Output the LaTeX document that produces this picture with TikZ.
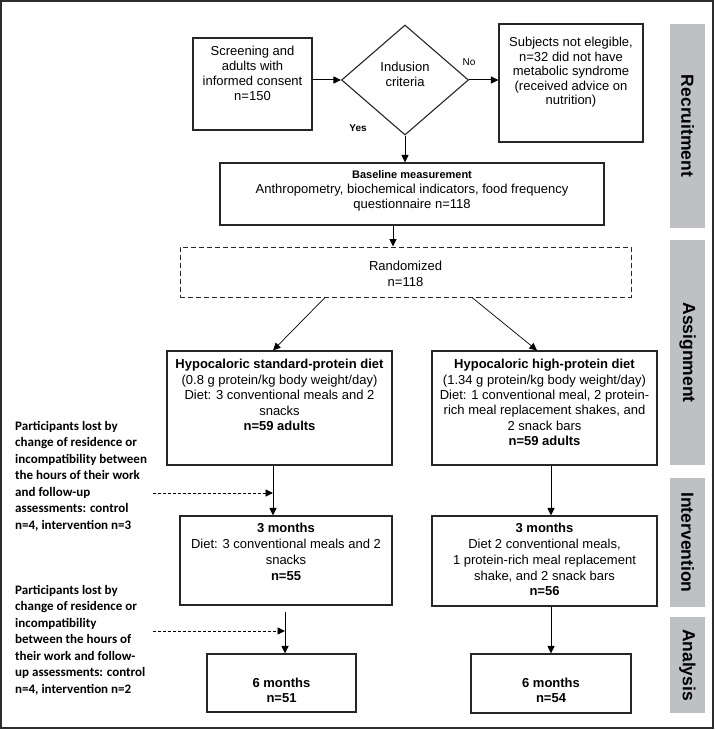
\documentclass[tikz,border=0pt]{standalone}
\usepackage{fontspec}
\setmainfont{Liberation Sans}
\newfontfamily\notefont{Carlito}
\usetikzlibrary{shapes.geometric,arrows.meta}
\definecolor{sidegray}{RGB}{190,192,195}
\definecolor{framegray}{RGB}{45,45,45}
\newcommand{\boxtext}[5]{\parbox[c][#2][t]{#1}{\centering\fontsize{13}{#4}\selectfont\vspace*{#3}\strut #5\par}}
\newcommand{\notetext}[1]{\parbox[t]{165pt}{\raggedright\notefont\bfseries\fontsize{13}{16.5}\selectfont #1\par}}
\tikzset{
  box/.style={draw=black!85, line width=1.1pt, inner sep=0pt},
  dbox/.style={draw=black!85, line width=1pt, inner sep=0pt, dash pattern=on 5pt off 3pt},
  arr/.style={-{Triangle[length=7.5pt,width=7pt]}, line width=1pt},
  thinarr/.style={-{Triangle[length=7.5pt,width=7pt]}, line width=0.7pt},
  darr/.style={-{Triangle[length=7.5pt,width=7pt]}, line width=0.9pt, dash pattern=on 3pt off 2pt},
  side/.style={fill=sidegray, inner sep=0pt, rotate=-90, font=\bfseries\fontsize{17.5}{20}\selectfont},
  lbl/.style={inner sep=0pt}
}
\begin{document}
\begin{tikzpicture}[x=1pt,y=-1pt]
\useasboundingbox (0,0) rectangle (715,730);
\draw[framegray, line width=1.6pt] (1,1) rectangle (713,728);

% side bars
\node[side, minimum width=204pt, minimum height=35pt] (s1) at (687.5,126) {Recruitment};
\node[side, minimum width=225pt, minimum height=35pt] (s2) at (687.5,352.5) {Assignment};
\node[side, minimum width=129pt, minimum height=35pt] (s3) at (687.5,542.5) {Intervention};
\node[side, minimum width=96pt, minimum height=35pt] (s4) at (687.5,665) {Analysis};

% recruitment
\node[box] (scr) at (252.5,84) {\boxtext{119pt}{92pt}{7.5pt}{15}{Screening and\\ adults with\\ informed consent\\ n=150}};
\node[box, shape=diamond, minimum width=127pt, minimum height=110pt] (dia) at (405,80) {};
\node[lbl, align=center, font=\fontsize{13}{15}\selectfont] (dtxt) at (405,74) {Indusion\\ criteria};
\node[box] (ne) at (571,83) {\boxtext{144pt}{118pt}{12.5pt}{14.5}{Subjects not elegible,\\ n=32 did not have\\ metabolic syndrome\\ (received advice on\\ nutrition)}};
\node[lbl, font=\fontsize{10}{12}\selectfont] (no) at (469,62) {No};
\node[lbl, font=\bfseries\fontsize{10}{12}\selectfont] (yes) at (358,128) {Yes};

\node[box] (base) at (412,194) {\boxtext{384pt}{62pt}{5.5pt}{15}{{\bfseries\fontsize{11}{15}\selectfont Baseline measurement}\\ Anthropometry, biochemical indicators, food frequency\\ questionnaire n=118}};

\draw[arr] (scr.east |- dia.west) -- (dia.west);
\draw[arr] (dia.east) -- (dia.east -| ne.west);
\draw[arr] (dia.south) -- (dia.south |- base.north);

% assignment
\node[dbox] (rand) at (405.5,272) {\boxtext{451pt}{50pt}{12.5pt}{16}{Randomized\\ n=118}};
\draw[arr] ([xshift=-19pt]base.south) -- ([xshift=-19pt]base.south |- rand.north);

\node[box] (ld) at (279.5,408) {\boxtext{225pt}{114pt}{7pt}{15.5}{{\bfseries Hypocaloric standard-protein diet}\\ (0.8 g protein/kg body weight/day)\\ Diet: 3 conventional meals and 2\\ snacks\\ {\bfseries n=59 adults}}};
\node[box] (rd) at (544.5,408) {\boxtext{225pt}{114pt}{7pt}{15.4}{{\bfseries Hypocaloric high-protein diet}\\ (1.34 g protein/kg body weight/day)\\ Diet: 1 conventional meal, 2 protein-\\ rich meal replacement shakes, and\\ 2 snack bars\\ {\bfseries n=59 adults}}};

\draw[thinarr] ([xshift=-80.5pt]rand.south) -- ([xshift=-6.5pt]ld.north);
\draw[thinarr] ([xshift=66.5pt]rand.south) -- ([xshift=-7.5pt]rd.north);

% intervention
\node[box] (l3) at (286,560.5) {\boxtext{212pt}{89pt}{6pt}{15.7}{{\bfseries 3 months}\\ Diet: 3 conventional meals and 2\\ snacks\\ {\bfseries n=55}}};
\node[box] (r3) at (544.5,561) {\boxtext{225pt}{90pt}{6pt}{15.7}{{\bfseries 3 months}\\ Diet 2 conventional meals,\\ 1 protein-rich meal replacement\\ shake, and 2 snack bars\\ {\bfseries n=56}}};

\draw[arr] ([xshift=-6.5pt]ld.south) -- ([xshift=-6.5pt]ld.south |- l3.north);
\draw[arr] ([xshift=6.5pt]rd.south) -- ([xshift=6.5pt]rd.south |- r3.north);

\node[lbl, anchor=base west] (n1) at (15,430) {\notetext{Participants lost by\\ change of residence or\\ incompatibility between\\ the hours of their work\\ and follow-up\\ assessments: control\\ n=4, intervention n=3}};
\coordinate (c1) at (153,493);
\coordinate (j1) at (273,493);
\draw[darr] (c1) -- (j1);

% analysis
\node[box] (l6) at (281.5,683) {\boxtext{149pt}{58pt}{22.5pt}{15}{{\bfseries 6 months\\ n=51}}};
\node[box] (r6) at (551,683.5) {\boxtext{160pt}{59pt}{22.5pt}{15}{{\bfseries 6 months\\ n=54}}};

\coordinate (s2top) at (285,612);
\draw[arr] (s2top) -- (s2top |- l6.north);
\draw[arr] ([xshift=6.5pt]r3.south) -- ([xshift=6.5pt]r3.south |- r6.north);

\node[lbl, anchor=base west] (n2) at (15,594) {\notetext{Participants lost by\\ change of residence or\\ incompatibility\\ between the hours of\\ their work and follow-\\ up assessments: control\\ n=4, intervention n=2}};
\coordinate (c2) at (153,631);
\draw[darr] (c2) -- (c2 -| s2top);
\end{tikzpicture}
\end{document}
